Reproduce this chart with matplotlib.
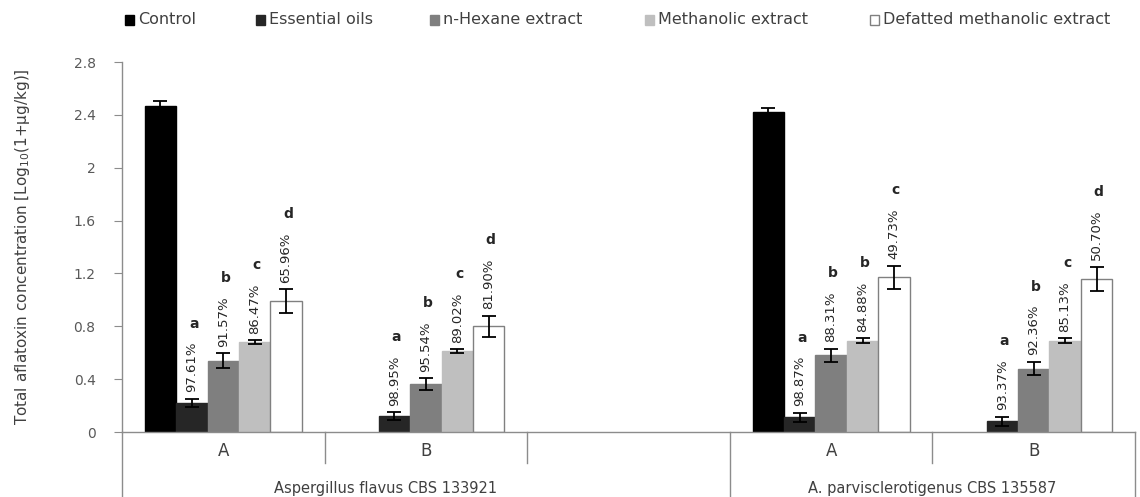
import numpy as np
import matplotlib
matplotlib.use("Agg")
import matplotlib.pyplot as plt
from matplotlib.patches import Rectangle

plt.rcParams['font.family'] = ['DejaVu Sans']

# ---------------- data ----------------
categories = ['A', 'B', '', 'A', 'B']
groups = ['Aspergillus flavus CBS 133921', 'A. parvisclerotigenus CBS 135587']
series = ['Control', 'Essential oils', 'n-Hexane extract', 'Methanolic extract',
          'Defatted methanolic extract']
nan = np.nan
control = [2.47, nan, nan, 2.42, nan]
essential = [0.22, 0.12, nan, 0.11, 0.08]
hexane = [0.54, 0.36, nan, 0.58, 0.48]
methanolic = [0.68, 0.61, nan, 0.69, 0.69]
defatted = [0.99, 0.80, nan, 1.17, 1.16]

control_err = [0.035, nan, nan, 0.035, nan]
essential_err = [0.03, 0.03, nan, 0.035, 0.035]
hexane_err = [0.055, 0.045, nan, 0.05, 0.05]
methanolic_err = [0.015, 0.015, nan, 0.02, 0.02]
defatted_err = [0.09, 0.08, nan, 0.09, 0.09]

essential_pct = ['97.61%', '98.95%', '', '98.87%', '93.37%']
hexane_pct = ['91.57%', '95.54%', '', '88.31%', '92.36%']
methanolic_pct = ['86.47%', '89.02%', '', '84.88%', '85.13%']
defatted_pct = ['65.96%', '81.90%', '', '49.73%', '50.70%']

essential_let = ['a', 'a', '', 'a', 'a']
hexane_let = ['b', 'b', '', 'b', 'b']
methanolic_let = ['c', 'c', '', 'b', 'c']
defatted_let = ['d', 'd', '', 'c', 'd']

yticks = [0, 0.4, 0.8, 1.2, 1.6, 2, 2.4, 2.8]
ytick_labels = ['0', '0.4', '0.8', '1.2', '1.6', '2', '2.4', '2.8']

# ---------------- style ----------------
values = [control, essential, hexane, methanolic, defatted]
errors = [control_err, essential_err, hexane_err, methanolic_err, defatted_err]
pcts = [None, essential_pct, hexane_pct, methanolic_pct, defatted_pct]
lets = [None, essential_let, hexane_let, methanolic_let, defatted_let]
colors = ['#000000', '#262626', '#7f7f7f', '#bfbfbf', '#ffffff']
edges = ['#000000', '#262626', '#7f7f7f', '#bfbfbf', '#808080']

W, H = 1140, 497
fig = plt.figure(figsize=(W / 100, H / 100), dpi=100)
ax = fig.add_axes([122 / W, 65 / H, 1013 / W, 370 / H])

x = np.arange(len(categories))
bw = 0.155
for i, (name, vals, errs) in enumerate(zip(series, values, errors)):
    pos = x + (i - 2) * bw
    ax.bar(pos, vals, bw, color=colors[i], edgecolor=edges[i], linewidth=1,
           yerr=errs, error_kw=dict(ecolor='black', elinewidth=1.3, capsize=5,
                                    capthick=1.3), zorder=2)
    if pcts[i] is None:
        continue
    for j in range(len(categories)):
        if not pcts[i][j]:
            continue
        base = vals[j] + errs[j] + 0.05
        ax.text(pos[j], base, pcts[i][j], rotation=90, ha='center', va='bottom',
                fontsize=9.5, color='#262626')
        ax.text(pos[j] + 0.01, base + 0.52, lets[i][j], ha='center', va='center',
                fontsize=10, fontweight='bold', color='#262626')

ax.set_xlim(-0.5, len(categories) - 0.5)
ax.set_ylim(0, 2.8)
ax.set_yticks(yticks)
ax.set_yticklabels(ytick_labels, fontsize=10, color='#595959')
ax.set_xticks([])
for s in ['top', 'right']:
    ax.spines[s].set_visible(False)
for s in ['left', 'bottom']:
    ax.spines[s].set_color('#8c8c8c')
    ax.spines[s].set_linewidth(1)
ax.tick_params(axis='y', direction='out', length=6, color='#8c8c8c', pad=13)
ax.set_ylabel('Total aflatoxin concentration [Log$_{10}$(1+μg/kg)]', fontsize=11,
              color='#404040', labelpad=30)

# multi-level category axis
trans = ax.get_xaxis_transform()
bounds = np.arange(len(categories) + 1) - 0.5
long_b = [0, 3, 5]
for k, b in enumerate(bounds):
    y1 = -0.176 if k in long_b else -0.084
    ax.plot([b, b], [0, y1], transform=trans, color='#8c8c8c', lw=1, clip_on=False)
for j, c in enumerate(categories):
    if c:
        ax.text(x[j], -0.05, c, transform=trans, ha='center', va='center',
                fontsize=12, color='#404040')
group_x = [0.8, 3.5]
for gx, g in zip(group_x, groups):
    ax.text(gx, -0.152, g, transform=trans, ha='center', va='center',
            fontsize=10.5, color='#404040')

# legend
leg_x = [125, 256, 430, 645, 870]
leg_y = 1 - 20 / H
for i, name in enumerate(series):
    fig.patches.append(Rectangle((leg_x[i] / W, leg_y - 4.5 / H), 9 / W, 9 / H,
                                 transform=fig.transFigure, facecolor=colors[i],
                                 edgecolor=edges[i], linewidth=1))
    fig.text((leg_x[i] + 13) / W, leg_y, name, ha='left', va='center',
             fontsize=11.5, color='#404040')

fig.savefig('out.png', dpi=100)
